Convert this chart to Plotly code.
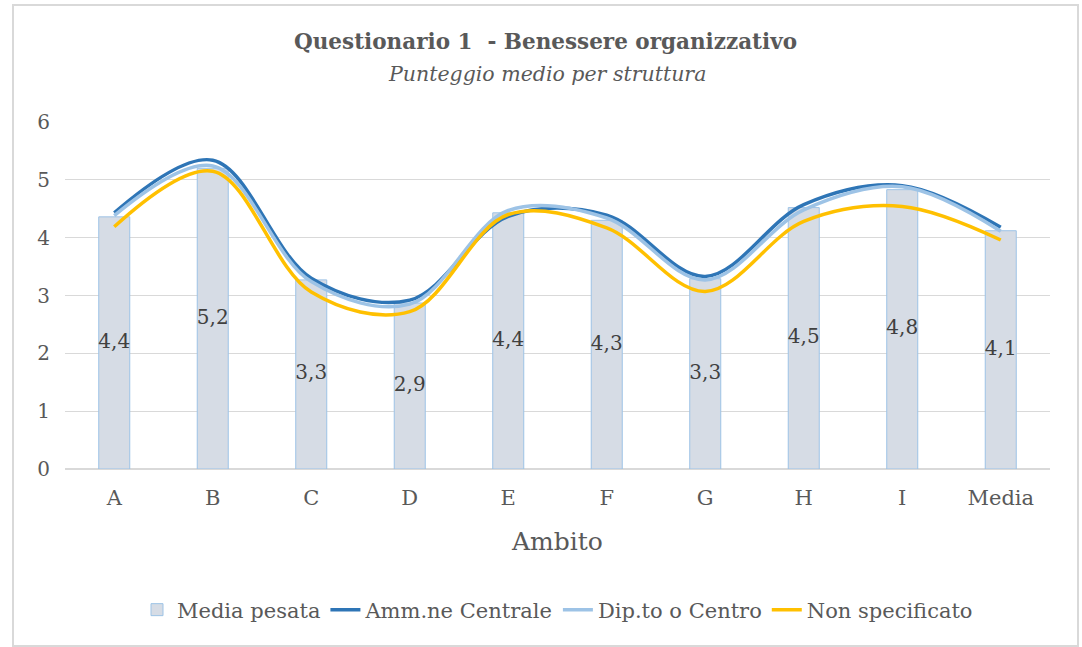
import plotly.graph_objects as go

categories = ["A", "B", "C", "D", "E", "F", "G", "H", "I", "Media"]
media_pesata = [4.36, 5.20, 3.27, 2.87, 4.43, 4.30, 3.29, 4.52, 4.83, 4.12]
amm_centrale = [4.43, 5.34, 3.30, 2.92, 4.37, 4.39, 3.33, 4.57, 4.90, 4.18]
dip_centro = [4.38, 5.24, 3.24, 2.85, 4.47, 4.34, 3.27, 4.48, 4.88, 4.11]
non_specificato = [4.19, 5.15, 3.06, 2.72, 4.40, 4.17, 3.07, 4.28, 4.54, 3.96]
y_ticks = [0, 1, 2, 3, 4, 5, 6]

FONT = "DejaVu Serif"
TXT = "#595959"

L, R, T, B = 65, 32, 122, 178
W, H = 1082, 647
pw, ph = W - L - R, H - T - B


def px_x(x):
    return (x - L) / pw


def px_y(y):
    return (H - B - y) / ph


fig = go.Figure()
fig.add_trace(go.Bar(
    x=categories, y=media_pesata, name="Media pesata",
    width=0.315,
    marker=dict(color="#D6DCE5", line=dict(color="#9DC3E6", width=1)),
    hoverinfo="x+y",
))
for name, vals, col in [
    ("Amm.ne Centrale", amm_centrale, "#2E75B6"),
    ("Dip.to o Centro", dip_centro, "#9DC3E6"),
    ("Non specificato", non_specificato, "#FFC000"),
]:
    fig.add_trace(go.Scatter(
        x=categories, y=vals, name=name, mode="lines",
        line=dict(color=col, width=3.5, shape="spline", smoothing=1.0),
    ))

# data labels of the bars, centred in each bar
fig.add_trace(go.Scatter(
    x=categories, y=[v / 2 for v in media_pesata], mode="text",
    text=[f"{v:.1f}".replace(".", ",") for v in media_pesata],
    textposition="middle center",
    textfont=dict(family=FONT, size=20, color="#404040"),
    showlegend=False, hoverinfo="skip",
))

fig.update_layout(
    width=W, height=H,
    margin=dict(l=L, r=R, t=T, b=B, autoexpand=False),
    paper_bgcolor="white", plot_bgcolor="white",
    font=dict(family=FONT, color=TXT, size=20),
    showlegend=True,
    legend=dict(orientation="h", x=0.5, xanchor="center",
                y=px_y(610), yanchor="middle",
                font=dict(family=FONT, size=21, color=TXT),
                traceorder="normal", itemwidth=30, tracegroupgap=0),
    bargap=0.5,
)
fig.update_xaxes(
    type="category", range=[-0.5, 9.5],
    showline=True, linecolor="#D9D9D9", linewidth=1,
    showgrid=False, ticks="", tickfont=dict(family=FONT, size=21, color=TXT),
    ticklabelstandoff=10,
)
fig.update_yaxes(
    range=[0, 6], tickvals=y_ticks, ticktext=[str(v) for v in y_ticks],
    showgrid=True, gridcolor="#D9D9D9", gridwidth=1,
    zeroline=True, zerolinecolor="#D9D9D9", showline=False, ticks="",
    tickfont=dict(family=FONT, size=20, color=TXT),
    ticklabelstandoff=14,
)

fig.add_annotation(text="<b>Questionario 1  - Benessere organizzativo</b>",
                   xref="paper", yref="paper", x=px_x(545), y=px_y(42),
                   xanchor="center", yanchor="middle", showarrow=False,
                   font=dict(family=FONT, size=21.5, color=TXT))
fig.add_annotation(text="<i>Punteggio medio per struttura</i>",
                   xref="paper", yref="paper", x=px_x(547), y=px_y(74),
                   xanchor="center", yanchor="middle", showarrow=False,
                   font=dict(family=FONT, size=20.5, color=TXT))
fig.add_annotation(text="Ambito",
                   xref="paper", yref="paper", x=px_x(557), y=px_y(541),
                   xanchor="center", yanchor="middle", showarrow=False,
                   font=dict(family=FONT, size=25, color=TXT))
fig.add_shape(type="rect", xref="paper", yref="paper",
              x0=px_x(13), x1=px_x(1078), y0=px_y(646), y1=px_y(5),
              line=dict(color="#D9D9D9", width=2), fillcolor="rgba(0,0,0,0)")

fig.write_html("out.html", config={"displayModeBar": False},
               post_script="document.body.style.margin='0';")
